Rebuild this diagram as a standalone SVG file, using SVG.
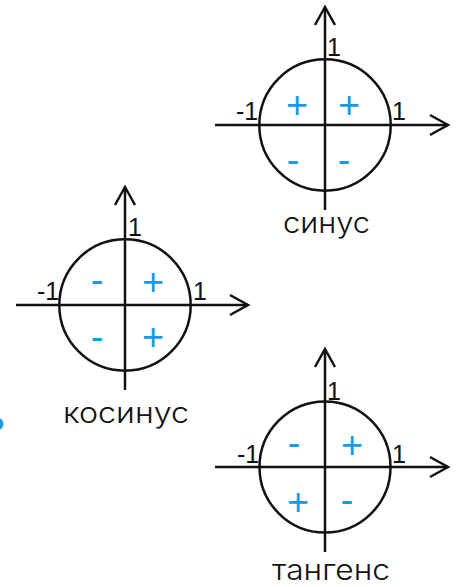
<svg xmlns="http://www.w3.org/2000/svg" width="460" height="587" viewBox="0 0 460 587">
  <style>
    .axis { stroke: #111; stroke-width: 2.5; fill: none; }
    .ring { stroke: #111; stroke-width: 2.5; fill: none; }
    .num { font-family: "Liberation Sans", Arial, sans-serif; font-size: 25px; fill: #111; }
    .sign { font-family: "Liberation Sans", Arial, sans-serif; font-size: 38px; fill: #1a9ae6; text-anchor: middle; }
    .name { font-family: Inter, "Liberation Sans", sans-serif; font-size: 28px; font-weight: 300; fill: #111; }
  </style>
  <defs>
    <marker id="tip" markerUnits="userSpaceOnUse" markerWidth="24" markerHeight="26" viewBox="-20 -12 24 24" refX="0" refY="0" orient="auto">
      <path d="M-18,-10 L0,0 L-18,10" fill="none" stroke="#111" stroke-width="2.5" stroke-linejoin="miter"/>
    </marker>
  </defs>

  <rect width="460" height="587" fill="#fff"/>

  <!-- small blue dot at the left edge -->
  <circle cx="-3" cy="424" r="6.5" fill="#1a9ae6"/>

  <!-- sine: signs by quadrant -->
  <g id="sinus">
    <circle class="ring" cx="325" cy="125" r="65.7"/>
    <line class="axis" x1="215" y1="125" x2="448" y2="125" marker-end="url(#tip)"/>
    <line class="axis" x1="325" y1="210" x2="325" y2="7" marker-end="url(#tip)"/>
    <text class="num" x="327" y="56">1</text>
    <text class="num" x="236" y="120">-1</text>
    <text class="num" x="392" y="120">1</text>
    <text class="sign" x="297" y="118">+</text>
    <text class="sign" x="349" y="118">+</text>
    <text class="sign" x="293" y="172.5">-</text>
    <text class="sign" x="344" y="172.5">-</text>
    <text class="name" x="283" y="233" textLength="87" lengthAdjust="spacingAndGlyphs">синус</text>
  </g>

  <!-- cosine -->
  <g id="kosinus">
    <circle class="ring" cx="125" cy="305" r="65.7"/>
    <line class="axis" x1="16" y1="305" x2="248" y2="305" marker-end="url(#tip)"/>
    <line class="axis" x1="125" y1="390" x2="125" y2="187" marker-end="url(#tip)"/>
    <text class="num" x="128" y="236">1</text>
    <text class="num" x="37" y="300">-1</text>
    <text class="num" x="193" y="300">1</text>
    <text class="sign" x="97" y="293">-</text>
    <text class="sign" x="153" y="295">+</text>
    <text class="sign" x="97" y="349.5">-</text>
    <text class="sign" x="153" y="350">+</text>
    <text class="name" x="63" y="423" textLength="126" lengthAdjust="spacingAndGlyphs">косинус</text>
  </g>

  <!-- tangent -->
  <g id="tangens">
    <circle class="ring" cx="325" cy="467" r="65.5"/>
    <line class="axis" x1="215" y1="467" x2="448" y2="467" marker-end="url(#tip)"/>
    <line class="axis" x1="325" y1="552" x2="325" y2="349" marker-end="url(#tip)"/>
    <text class="num" x="327" y="400">1</text>
    <text class="num" x="237" y="463">-1</text>
    <text class="num" x="392" y="463">1</text>
    <text class="sign" x="294" y="456">-</text>
    <text class="sign" x="352" y="458">+</text>
    <text class="sign" x="298" y="515">+</text>
    <text class="sign" x="347" y="513">-</text>
    <text class="name" x="272" y="580" textLength="118" lengthAdjust="spacingAndGlyphs">тангенс</text>
  </g>
</svg>
